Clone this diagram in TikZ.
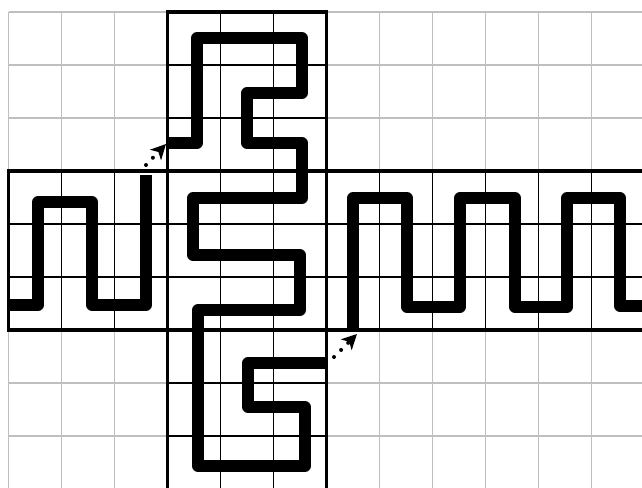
\documentclass[tikz,border=0pt]{standalone}
\usetikzlibrary{arrows.meta}
\begin{document}
\begin{tikzpicture}[x=1pt,y=-1pt,
  gridgray/.style={draw=black!25, line width=1.8pt},
  gridblack/.style={draw=black, line width=1.7pt},
  bandframe/.style={draw=black, line width=3.2pt},
  route/.style={draw=black, line width=11.5pt, line join=round, line cap=butt},
  hop/.style={draw=black, line width=4pt, line cap=round, dash pattern=on 0pt off 10pt, -{Stealth[length=15pt,width=15pt,inset=4pt]}}]
\useasboundingbox (0,0) rectangle (642,487);
\fill[white] (0,0) rectangle (642,487);
\clip (0,0) rectangle (642,487);
% light grid
\foreach \i in {0,...,11} \draw[gridgray] ({8.5+53*\i},12) -- ({8.5+53*\i},490);
\foreach \j in {0,...,8} \draw[gridgray] (8.5,{12+53*\j}) -- (650,{12+53*\j});
% black grid inside the vertical band
\foreach \i in {0,...,3} \draw[gridblack] ({167.5+53*\i},12) -- ({167.5+53*\i},490);
\foreach \j in {0,...,8} \draw[gridblack] (167.5,{12+53*\j}) -- (326.5,{12+53*\j});
% black grid inside the horizontal band
\foreach \i in {0,...,11} \draw[gridblack] ({8.5+53*\i},171) -- ({8.5+53*\i},330);
\foreach \j in {3,...,6} \draw[gridblack] (8.5,{12+53*\j}) -- (650,{12+53*\j});
% band frames
\draw[bandframe] (167.5,500) -- (167.5,12) -- (326.5,12) -- (326.5,500);
\draw[bandframe] (660,171) -- (8.5,171) -- (8.5,330) -- (660,330);
% routes
\draw[route] (10,305) -- (38,305) -- (38,202) -- (92,202) -- (92,305) -- (146,305) -- (146,175);
\coordinate (a1s) at (146,165);
\coordinate (a1e) at (166,144);
\draw[hop] (a1s) -- (a1e);
\draw[route] (166,143) -- (197,143) -- (197,38) -- (302,38) -- (302,93) -- (247,93) -- (247,143)
  -- (302,143) -- (302,198) -- (193,198) -- (193,255) -- (300,255) -- (300,310) -- (198,310)
  -- (198,466) -- (305,466) -- (305,407) -- (248,407) -- (248,363) -- (327,363);
\coordinate (a2s) at (334,357);
\coordinate (a2e) at (357,334);
\draw[hop] (a2s) -- (a2e);
\draw[route] (353,328) -- (353,198) -- (407,198) -- (407,307) -- (460,307) -- (460,198) -- (515,198)
  -- (515,307) -- (567,307) -- (567,198) -- (620,198) -- (620,306) -- (650,306);
\end{tikzpicture}
\end{document}
